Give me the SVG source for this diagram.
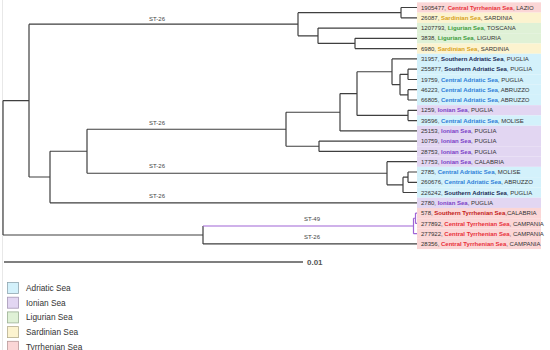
<svg xmlns="http://www.w3.org/2000/svg" width="550" height="350" viewBox="0 0 550 350">
<style>
text{font-family:"Liberation Sans",Arial,sans-serif}
.lf{font-size:6px;fill:#333}
.lf tspan{font-weight:bold}
.st{font-size:6px;fill:#444;text-anchor:middle}
.lg{font-size:8.3px;fill:#333}
.br{fill:none;stroke:#3f3f3f;stroke-width:1.2}
.pu{fill:none;stroke:#a064d6;stroke-width:1.2}
.bR{fill:#fbd6d6}.bY{fill:#fcf3cf}.bG{fill:#dff1d6}.bB{fill:#d3f1fb}.bP{fill:#e2d6f2}
.ctyr{fill:#e8303a}.styr{fill:#c21818}.sar{fill:#d8a21c}.lig{fill:#3d9b3d}.sadr{fill:#1c2b55}.cadr{fill:#2f7fd8}.ion{fill:#7a3fc7}
</style>
<rect width="550" height="350" fill="#fff"/>
<line x1="2.5" y1="0" x2="2.5" y2="350" stroke="#e8e8e8" stroke-width="1"/>
<g id="leaves">
<g id="L0"><rect class="bR" x="417" y="2.36" width="124" height="10.28"/><text class="lf" x="421" y="9.6">1905477, <tspan class="ctyr">Central Tyrrhenian Sea</tspan>, LAZIO</text></g>
<g id="L1"><rect class="bY" x="417" y="12.64" width="124" height="10.28"/><text class="lf" x="421" y="19.9">26087, <tspan class="sar">Sardinian Sea</tspan>, SARDINIA</text></g>
<g id="L2"><rect class="bG" x="417" y="22.92" width="124" height="10.28"/><text class="lf" x="421" y="30.2">1207793, <tspan class="lig">Ligurian Sea</tspan>, TOSCANA</text></g>
<g id="L3"><rect class="bG" x="417" y="33.2" width="124" height="10.28"/><text class="lf" x="421" y="40.4">3838, <tspan class="lig">Ligurian Sea</tspan>, LIGURIA</text></g>
<g id="L4"><rect class="bY" x="417" y="43.48" width="124" height="10.28"/><text class="lf" x="421" y="50.7">6980, <tspan class="sar">Sardinian Sea</tspan>, SARDINIA</text></g>
<g id="L5"><rect class="bB" x="417" y="53.76" width="124" height="10.28"/><text class="lf" x="421" y="61">31957, <tspan class="sadr">Southern Adriatic Sea</tspan>, PUGLIA</text></g>
<g id="L6"><rect class="bB" x="417" y="64.04" width="124" height="10.28"/><text class="lf" x="421" y="71.3">255877, <tspan class="sadr">Southern Adriatic Sea</tspan>, PUGLIA</text></g>
<g id="L7"><rect class="bB" x="417" y="74.32" width="124" height="10.28"/><text class="lf" x="421" y="81.6">19759, <tspan class="cadr">Central Adriatic Sea</tspan>, PUGLIA</text></g>
<g id="L8"><rect class="bB" x="417" y="84.6" width="124" height="10.28"/><text class="lf" x="421" y="91.8">46223, <tspan class="cadr">Central Adriatic Sea</tspan>, ABRUZZO</text></g>
<g id="L9"><rect class="bB" x="417" y="94.88" width="124" height="10.28"/><text class="lf" x="421" y="102.1">66805, <tspan class="cadr">Central Adriatic Sea</tspan>, ABRUZZO</text></g>
<g id="L10"><rect class="bP" x="417" y="105.16" width="124" height="10.28"/><text class="lf" x="421" y="112.4">1259, <tspan class="ion">Ionian Sea</tspan>, PUGLIA</text></g>
<g id="L11"><rect class="bB" x="417" y="115.44" width="124" height="10.28"/><text class="lf" x="421" y="122.7">39596, <tspan class="cadr">Central Adriatic Sea</tspan>, MOLISE</text></g>
<g id="L12"><rect class="bP" x="417" y="125.72" width="124" height="10.28"/><text class="lf" x="421" y="133">25153, <tspan class="ion">Ionian Sea</tspan>, PUGLIA</text></g>
<g id="L13"><rect class="bP" x="417" y="136" width="124" height="10.28"/><text class="lf" x="421" y="143.2">10759, <tspan class="ion">Ionian Sea</tspan>, PUGLIA</text></g>
<g id="L14"><rect class="bP" x="417" y="146.28" width="124" height="10.28"/><text class="lf" x="421" y="153.5">28753, <tspan class="ion">Ionian Sea</tspan>, PUGLIA</text></g>
<g id="L15"><rect class="bP" x="417" y="156.56" width="124" height="10.28"/><text class="lf" x="421" y="163.8">17753, <tspan class="ion">Ionian Sea</tspan>, CALABRIA</text></g>
<g id="L16"><rect class="bB" x="417" y="166.84" width="124" height="10.28"/><text class="lf" x="421" y="174.1">2785, <tspan class="cadr">Central Adriatic Sea</tspan>, MOLISE</text></g>
<g id="L17"><rect class="bB" x="417" y="177.12" width="124" height="10.28"/><text class="lf" x="421" y="184.4">260676, <tspan class="cadr">Central Adriatic Sea</tspan>, ABRUZZO</text></g>
<g id="L18"><rect class="bB" x="417" y="187.4" width="124" height="10.28"/><text class="lf" x="421" y="194.6">226242, <tspan class="sadr">Southern Adriatic Sea</tspan>, PUGLIA</text></g>
<g id="L19"><rect class="bP" x="417" y="197.68" width="124" height="10.28"/><text class="lf" x="421" y="204.9">2780, <tspan class="ion">Ionian Sea</tspan>, PUGLIA</text></g>
<g id="L20"><rect class="bR" x="417" y="207.96" width="124" height="10.28"/><text class="lf" x="421" y="215.2">578, <tspan class="styr">Southern Tyrrhenian Sea</tspan>,CALABRIA</text></g>
<g id="L21"><rect class="bR" x="417" y="218.24" width="124" height="10.28"/><text class="lf" x="421" y="225.5">277892, <tspan class="ctyr">Central Tyrrhenian Sea</tspan>, CAMPANIA</text></g>
<g id="L22"><rect class="bR" x="417" y="228.52" width="124" height="10.28"/><text class="lf" x="421" y="235.8">277922, <tspan class="ctyr">Central Tyrrhenian Sea</tspan>, CAMPANIA</text></g>
<g id="L23"><rect class="bR" x="417" y="238.8" width="124" height="10.28"/><text class="lf" x="421" y="246">28356, <tspan class="ctyr">Central Tyrrhenian Sea</tspan>, CAMPANIA</text></g>
</g>
<g id="connectors">
<path class="br" d="M3 100.6V235M3 100.6H29M3 235H203
M29 24.2V177M29 24.2H298M29 177H50
M298 12.65V35.78M298 12.65H401M298 35.78H318
M401 7.5V17.8M401 7.5H417M401 17.8H417
M318 28.1V43.45M318 28.1H417M318 43.45H355
M355 38.3V48.6M355 38.3H417M355 48.6H417
M50 151.25V202.8M50 151.25H87M50 202.8H417
M87 129.25V173.25M87 129.25H286M87 173.25H387
M286 112.25V146.25M286 112.25H340M286 146.25H319
M340 93.6V130.9M340 93.6H357M340 130.9H417
M357 71.75V115.45M357 71.75H392M357 115.45H408
M392 58.9V84.6M392 58.9H417M392 84.6H400
M400 74.35V94.85M400 74.35H408M400 94.85H408
M408 69.2V79.5M408 69.2H417M408 79.5H417
M408 89.7V100M408 89.7H417M408 100H417
M408 110.3V120.6M408 110.3H417M408 120.6H417
M319 141.1V151.4M319 141.1H417M319 151.4H417
M387 161.7V184.8M387 161.7H417M387 184.8H403
M403 177.15V192.5M403 177.15H408M403 192.5H417
M408 172V182.3M408 172H417M408 182.3H417
M203 226V243.9M203 243.9H417"/>
<path class="pu" d="M203 226H413.5M413.5 218.25V233.7M413.5 233.7H417M413.5 218.25H415.5M415.5 213.1V223.4M415.5 213.1H417M415.5 223.4H417"/>
<text class="st" x="157" y="20.5">ST-26</text>
<text class="st" x="157" y="124.5">ST-26</text>
<text class="st" x="157" y="168">ST-26</text>
<text class="st" x="157" y="198">ST-26</text>
<text class="st" x="312" y="220.5">ST-49</text>
<text class="st" x="312" y="239">ST-26</text>
</g>
<g id="scale">
<line x1="4" y1="262" x2="303" y2="262" stroke="#555" stroke-width="1.3"/>
<text x="307" y="265" font-size="8" font-weight="bold" fill="#555">0.01</text>
</g>
<g id="legend">
<g id="leg-adriatic"><rect x="7.5" y="282.5" width="11" height="11" fill="#d3f1fb" stroke="#8fa6b0" stroke-width="0.8"/><text class="lg" x="26" y="291">Adriatic Sea</text></g>
<g id="leg-ionian"><rect x="7.5" y="297.2" width="11" height="11" fill="#e2d6f2" stroke="#a597b5" stroke-width="0.8"/><text class="lg" x="26" y="305.7">Ionian Sea</text></g>
<g id="leg-ligurian"><rect x="7.5" y="311.9" width="11" height="11" fill="#dff1d6" stroke="#9cb094" stroke-width="0.8"/><text class="lg" x="26" y="320.4">Ligurian Sea</text></g>
<g id="leg-sardinian"><rect x="7.5" y="326.6" width="11" height="11" fill="#fcf3cf" stroke="#b5ad8e" stroke-width="0.8"/><text class="lg" x="26" y="335.1">Sardinian Sea</text></g>
<g id="leg-tyrrhenian"><rect x="7.5" y="341.3" width="11" height="11" fill="#fbd6d6" stroke="#b89999" stroke-width="0.8"/><text class="lg" x="26" y="349.8">Tyrrhenian Sea</text></g>
</g>
</svg>
